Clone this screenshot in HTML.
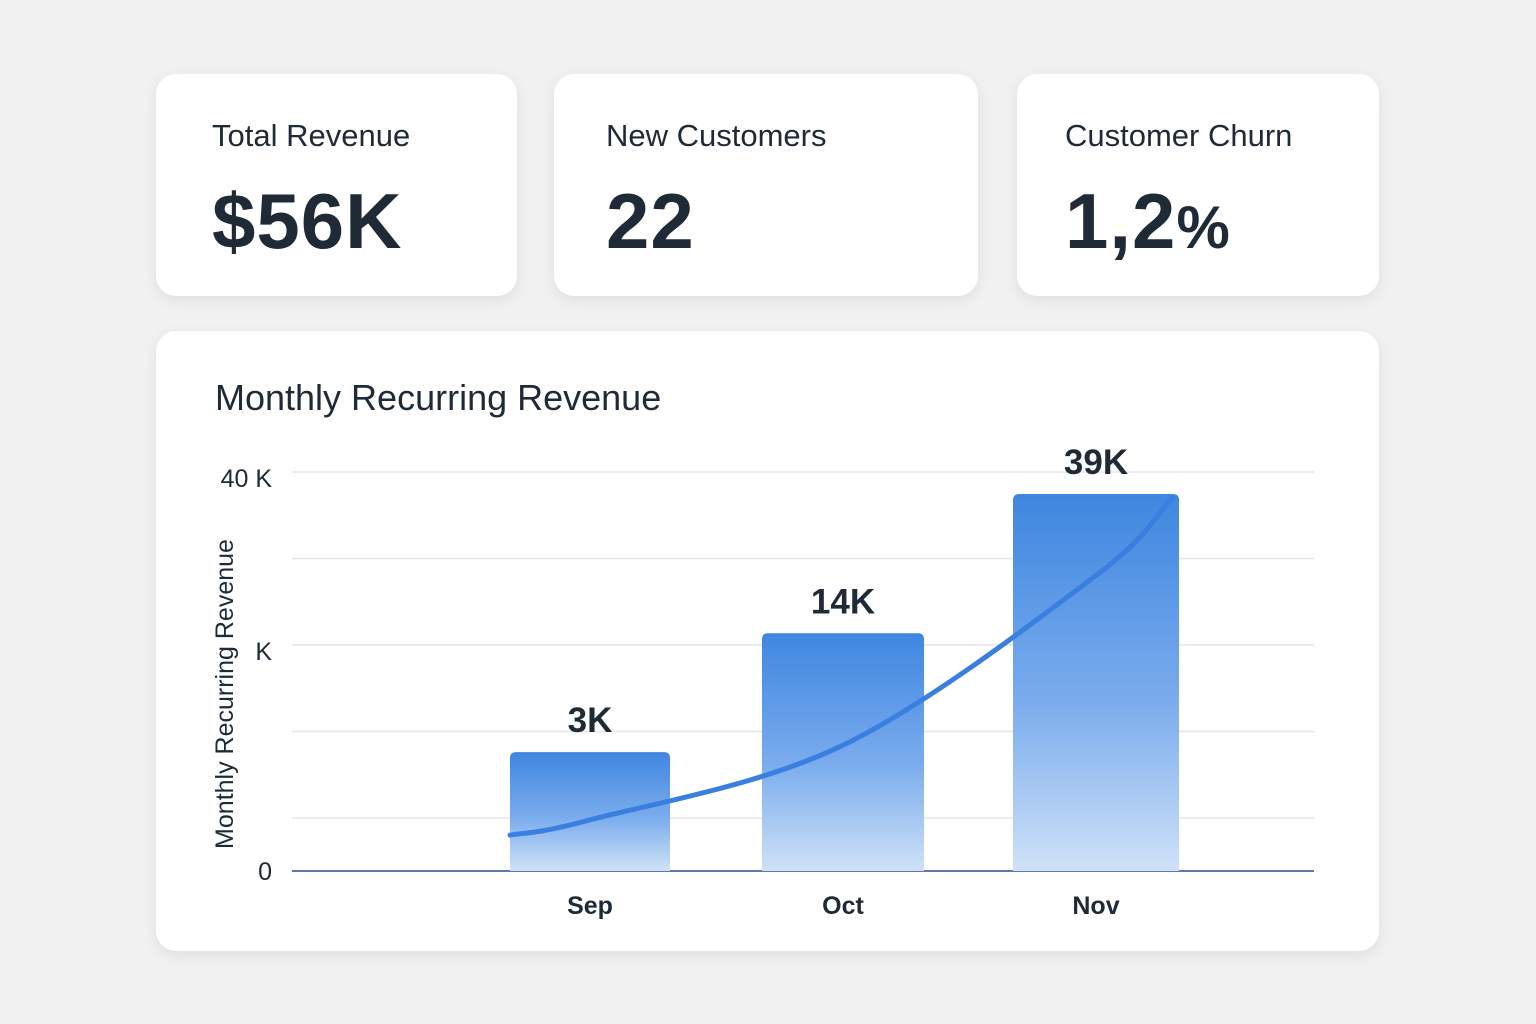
<!DOCTYPE html>
<html><head><meta charset="utf-8"><style>
body{margin:0;width:1536px;height:1024px;background:#f1f1f2;font-family:"Liberation Sans",sans-serif;color:#1f2a36;position:relative;overflow:hidden}
.card{position:absolute;background:#fff;border-radius:20px;box-shadow:0 4px 14px rgba(0,0,0,0.08)}
.kt{position:absolute;font-size:31px;top:118px}
.kv{position:absolute;font-size:78px;font-weight:bold;top:176px;letter-spacing:1px}
</style></head><body>
<div class="card" style="left:156px;top:74px;width:361px;height:222px"></div>
<div class="card" style="left:554px;top:74px;width:424px;height:222px"></div>
<div class="card" style="left:1017px;top:74px;width:362px;height:222px"></div>
<div class="kt" style="left:212px">Total Revenue</div>
<div class="kv" style="left:212px">$56K</div>
<div class="kt" style="left:606px">New Customers</div>
<div class="kv" style="left:606px">22</div>
<div class="kt" style="left:1065px">Customer Churn</div>
<div class="kv" style="left:1065px">1,2<span style="font-size:60px">%</span></div>
<div class="card" style="left:156px;top:331px;width:1223px;height:620px"></div>
<svg id="chart" width="1536" height="1024" style="position:absolute;left:0;top:0">
<defs><linearGradient id="bg" x1="0" y1="0" x2="0" y2="1"><stop offset="0" stop-color="#3f86e0"/><stop offset="0.55" stop-color="#7aaced"/><stop offset="1" stop-color="#cfe1f7"/></linearGradient></defs>
<text x="215" y="410" font-size="36" fill="#1f2a36">Monthly Recurring Revenue</text>
<text transform="translate(233,694) rotate(-90)" text-anchor="middle" font-size="25" fill="#1f2a36">Monthly Recurring Revenue</text>
<g id="g"></g>
</svg>
<script>
const categories=["Sep","Oct","Nov"];
const values=[3,14,39];
const valueLabels=["3K","14K","39K"];
const yTickLabels=["40 K","K","0"];
const yTickValues=[40,9,0];
const trendPos=[-0.316,0,1,2,2.3];
const trendVals=[0.21,0.46,3.4,22.7,38.1];
const base=871;
function y(v){return base-72.5*Math.pow(Math.max(v,0),0.45);}
function x(i){return 590+253*i;}
const NS="http://www.w3.org/2000/svg",g=document.getElementById('g');
function mk(t,a,txt){const e=document.createElementNS(NS,t);for(const k in a)e.setAttribute(k,a[k]);if(txt!==undefined)e.textContent=txt;g.appendChild(e);return e;}
for(let k=0;k<5;k++){const l=mk('line',{x1:292,x2:1314,y1:472+86.5*k,y2:472+86.5*k,stroke:'#e3e5e8','stroke-width':1.5});

}
const bl=mk('line',{x1:292,x2:1314,y1:base,y2:base,stroke:'#2a4f8a','stroke-width':1.5});


const tickY=[478,651,871];
yTickLabels.forEach((t,i)=>{const e=mk('text',{x:272,y:tickY[i]+9,'text-anchor':'end','font-size':25,fill:'#1f2a36'},t);

});
const bw=[160,162,166];
categories.forEach((c,i)=>{
 const cx=x(i),top=y(values[i]),w=bw[i];
 const r=mk('path',{d:`M${cx-w/2},${base}V${top+6}Q${cx-w/2},${top} ${cx-w/2+6},${top}H${cx+w/2-6}Q${cx+w/2},${top} ${cx+w/2},${top+6}V${base}Z`,fill:'url(#bg)'});
 
 
 const lb=mk('text',{x:cx,y:top-20,'text-anchor':'middle','font-size':35,'font-weight':'bold',fill:'#1f2a36'},valueLabels[i]);
 
 
 const xl=mk('text',{x:cx,y:914,'text-anchor':'middle','font-size':25,'font-weight':'bold',fill:'#1f2a36'},c);
 
 
});
const pts=trendPos.map((p,i)=>[x(p),y(trendVals[i])]);
let d=`M${pts[0][0]},${pts[0][1]}`;
for(let i=0;i<pts.length-1;i++){const p0=pts[Math.max(i-1,0)],p1=pts[i],p2=pts[i+1],p3=pts[Math.min(i+2,pts.length-1)];
d+=` C${p1[0]+(p2[0]-p0[0])/6},${p1[1]+(p2[1]-p0[1])/6} ${p2[0]-(p3[0]-p1[0])/6},${p2[1]-(p3[1]-p1[1])/6} ${p2[0]},${p2[1]}`;}
const tl=mk('path',{d:d,fill:'none',stroke:'#3a7fe0','stroke-width':5,'stroke-linecap':'round'});


</script>
</body></html>
